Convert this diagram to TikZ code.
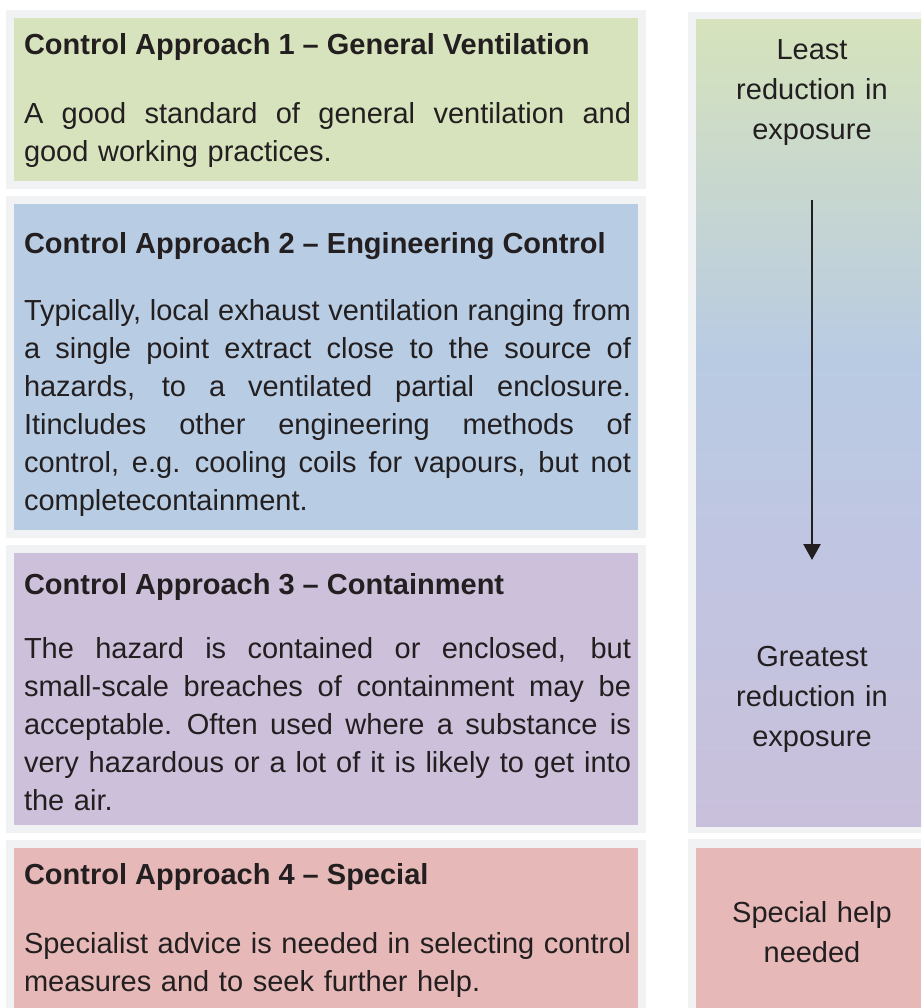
\documentclass[tikz,border=0pt]{standalone}
\usepackage{fontspec}
\setmainfont{Liberation Sans}
\usetikzlibrary{arrows.meta}
\setlength\parindent{0pt}
\definecolor{framegray}{HTML}{F1F2F4}
\definecolor{boxgreen}{HTML}{D6E3BC}
\definecolor{boxblue}{HTML}{B8CCE4}
\definecolor{boxpurple}{HTML}{CCC0DA}
\definecolor{boxred}{HTML}{E6B9B8}
\definecolor{gradmid}{HTML}{B9CBE3}
\definecolor{gradlav}{HTML}{C1C5E1}
\definecolor{gradbot}{HTML}{C9C0DB}
\definecolor{ink}{HTML}{231F20}
\pgfdeclareverticalshading{expgrad}{100bp}{color(0bp)=(gradbot); color(25bp)=(gradbot); color(41bp)=(gradlav); color(54bp)=(gradmid); color(75bp)=(boxgreen); color(100bp)=(boxgreen)}
\newcommand\jl[1]{\leavevmode\hbox to 607pt{\spaceskip=\fontdimen2\font plus 1fil minus 0.35\fontdimen2\font\relax #1}}
\begin{document}
\begin{tikzpicture}[x=1pt,y=-1pt,
  txt/.style={inner sep=0pt, outer sep=0pt, text=ink},
  head/.style={txt, anchor=base west, font=\fontsize{29}{38}\selectfont\bfseries},
  body/.style={txt, anchor=base west, text width=607pt, align=left, font=\fontsize{29}{38}\selectfont},
  side/.style={txt, anchor=base, text width=220pt, align=center, font=\fontsize{29}{40}\selectfont},
  frame/.style={fill=framegray},
  arr/.style={draw=ink, line width=2.6pt, -{Triangle[width=17pt,length=16pt]}}]
\useasboundingbox (0,0) rectangle (921,1008);
\fill[white] (0,0) rectangle (921,1008);
% left column
\fill[frame] (6,10) rectangle (646,189);
\fill[boxgreen] (14,18) rectangle (638,181);
\fill[frame] (6,196) rectangle (646,538);
\fill[boxblue] (14,204) rectangle (638,530);
\fill[frame] (6,545) rectangle (646,833);
\fill[boxpurple] (14,553) rectangle (638,825);
\fill[frame] (6,840) rectangle (646,1008);
\fill[boxred] (14,848) rectangle (638,1008);
% right column
\fill[frame] (688,12) rectangle (921,833);
\shade[shading=expgrad] (696,20) rectangle (921,826);
\fill[frame] (688,839) rectangle (921,1008);
\fill[boxred] (696,848) rectangle (921,1008);
% texts
\node[head] (h1) at (24,55) {Control Approach 1 – General Ventilation};
\node[body] (b1) at (24,124) {\jl{A good standard of general ventilation and}\\good working practices.};
\node[head] (h2) at (24,253) {Control Approach 2 – Engineering Control};
\node[body] (b2) at (24,320) {\jl{Typically, local exhaust ventilation ranging from}\\
\jl{a single point extract close to the source of}\\
\jl{hazards, to a ventilated partial enclosure.}\\
\jl{Itincludes other engineering methods of}\\
\jl{control, e.g. cooling coils for vapours, but not}\\
completecontainment.};
\node[head] (h3) at (24,594) {Control Approach 3 – Containment};
\node[body] (b3) at (24,658) {\jl{The hazard is contained or enclosed, but}\\
\jl{small-scale breaches of containment may be}\\
\jl{acceptable. Often used where a substance is}\\
\jl{very hazardous or a lot of it is likely to get into}\\
the air.};
\node[head] (h4) at (24,884) {Control Approach 4 – Special};
\node[body] (b4) at (24,953) {\jl{Specialist advice is needed in selecting control}\\measures and to seek further help.};
\node[side] (least) at (812,60) {Least\\reduction in\\exposure};
\node[side] (greatest) at (812,666) {Greatest\\reduction in\\exposure};
\node[side] (special) at (812,922) {Special help\\needed};
\coordinate (atop) at (812,200);
\coordinate (abot) at (812,560);
\draw[arr] (atop) -- (abot);
\end{tikzpicture}
\end{document}
